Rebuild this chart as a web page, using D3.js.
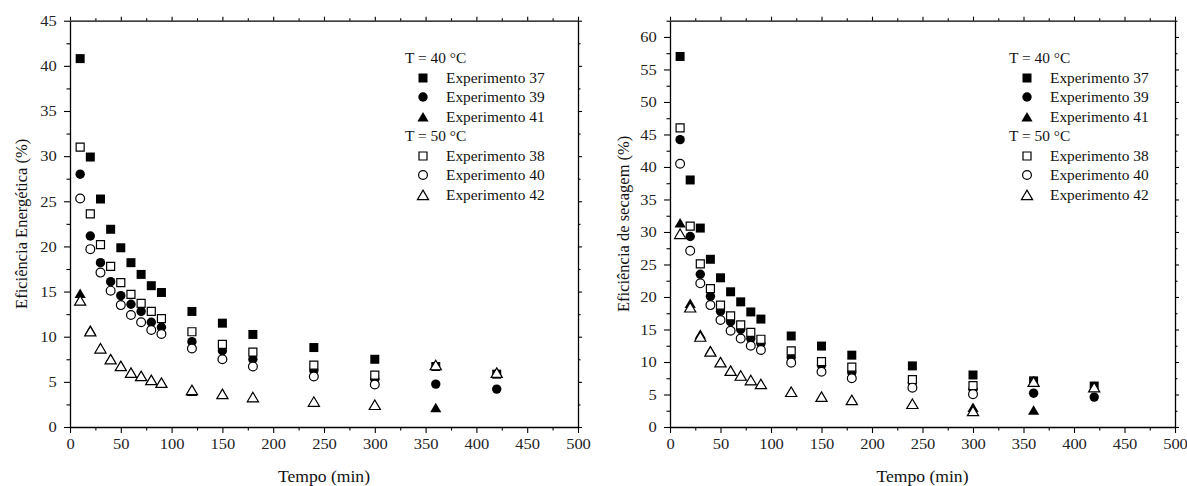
<!DOCTYPE html>
<html><head><meta charset="utf-8">
<script src="https://cdn.jsdelivr.net/npm/d3@7"></script>
<style>
body{margin:0;background:#fff;}
svg{display:block;}
svg text{font-family:"Liberation Serif","Times New Roman",serif !important;}
</style></head><body>
<svg id="c" width="1187" height="486"></svg>
<script>
const times = [10,20,30,40,50,60,70,80,90,120,150,180,240,300,360,420];
// Eficiência energética (%)
const exp37E = [40.8,29.9,25.25,21.9,19.85,18.2,16.9,15.65,14.9,12.8,11.5,10.25,8.8,7.5,6.7,5.85];
const exp39E = [28.0,21.15,18.2,16.1,14.55,13.6,12.8,11.6,11.05,9.45,8.45,7.5,6.25,5.3,4.75,4.2];
const exp41E = [14.8,10.75,8.75,7.55,6.8,6.05,5.7,5.25,4.95,3.95,3.65,3.3,2.8,2.45,2.15,null];
const exp38E = [31.0,23.6,20.2,17.8,16.0,14.7,13.7,12.8,12.0,10.55,9.15,8.3,6.85,5.75,null,null];
const exp40E = [25.3,19.7,17.1,15.1,13.5,12.4,11.6,10.75,10.3,8.7,7.5,6.7,5.6,4.7,null,null];
const exp42E = [14.0,10.6,8.7,7.5,6.75,6.0,5.65,5.2,4.9,4.1,3.65,3.3,2.8,2.45,6.85,6.0];
// Eficiência de secagem (%)
const exp37S = [57.0,38.0,30.6,25.8,22.95,20.8,19.25,17.7,16.6,14.0,12.45,11.05,9.4,8.0,7.1,6.3];
const exp39S = [44.2,29.3,23.5,20.1,17.8,16.2,15.0,13.6,12.85,10.7,9.5,8.4,6.85,5.8,5.2,4.6];
const exp41S = [31.4,19.0,14.3,11.8,10.0,8.7,7.9,7.2,6.6,5.4,4.65,4.15,3.55,3.0,2.6,null];
const exp38S = [46.0,30.9,25.1,21.3,18.75,17.1,15.7,14.55,13.5,11.7,10.05,9.2,7.3,6.35,null,null];
const exp40S = [40.5,27.1,22.1,18.75,16.45,14.8,13.6,12.5,11.85,9.9,8.5,7.5,6.05,5.05,null,null];
const exp42S = [29.7,18.4,13.9,11.6,9.95,8.65,7.9,7.2,6.6,5.4,4.65,4.15,3.55,2.45,6.95,6.1];

const seriesNames = ["Experimento 37","Experimento 39","Experimento 41","Experimento 38","Experimento 40","Experimento 42"];
const seriesShapes = ["square","circle","triangle","square","circle","triangle"];
const seriesFilled = [true,true,true,false,false,false];
const groupLabels = ["T = 40 °C","T = 50 °C"];
const xTicks = [0,50,100,150,200,250,300,350,400,450,500];

const SX = 1.1; // horizontal text stretch seen in the reference
const svg = d3.select("#c");

function markerPath(shape, filled){
  if(shape==="square") return filled ? "M-4.5,-4.5H4.5V4.5H-4.5Z" : "M-4,-4H4V4H-4Z";
  if(shape==="circle") return d3.symbol(d3.symbolCircle, Math.PI*(filled?4.7:4.4)**2)();
  return "M0,-4.9L5.6,4.6L-5.6,4.6Z";
}
function drawMarker(g, shape, filled, x, y){
  g.append("path").attr("d", markerPath(shape, filled)).attr("transform",`translate(${x},${y})`)
    .attr("fill", filled?"#000":"#fff").attr("stroke","#000")
    .attr("stroke-width", filled?0:1.2);
}
function stext(g, x, y, str, size, anchor){
  return g.append("text").attr("transform",`translate(${x},${y}) scale(${SX},1)`)
    .attr("dy","0.35em").attr("text-anchor",anchor||"start")
    .style("font-size",size+"px").attr("fill","#111").text(str);
}

function panel(opts){
  const {x0,x1,yTop,yBot,yMax,yLabel,data,legX,labelX} = opts;
  const x = d3.scaleLinear().domain([0,500]).range([x0,x1]);
  const y = d3.scaleLinear().domain([0,yMax]).range([yBot,yTop]);
  const g = svg.append("g");
  const yMaj = d3.range(0, yMax+0.01, 5);
  const yMin = d3.range(2.5, yMax+0.01, 5);
  const xMin = d3.range(25, 500, 50);
  const style = a => { a.attr("font-family",null).attr("font-size",null);
    a.selectAll(".domain").attr("stroke","#000").attr("stroke-width",1.3);
    a.selectAll(".tick line").attr("stroke","#000").attr("stroke-width",1.1);
    a.selectAll("text").style("font-size","15px").attr("fill","#222"); };
  // bottom
  g.append("g").attr("transform",`translate(0,${yBot})`).call(d3.axisBottom(x).tickValues(xTicks).tickSize(6).tickPadding(5).tickSizeOuter(0)).call(style)
    .selectAll(".tick text").attr("transform",`scale(${SX},1)`);
  g.append("g").attr("transform",`translate(0,${yBot})`).call(d3.axisBottom(x).tickValues(xMin).tickSize(3.5).tickFormat("")).call(style).select(".domain").remove();
  // top
  g.append("g").attr("transform",`translate(0,${yTop})`).call(d3.axisTop(x).tickValues(xTicks).tickSize(4).tickFormat("").tickSizeOuter(0)).call(style);
  g.append("g").attr("transform",`translate(0,${yTop})`).call(d3.axisTop(x).tickValues(xMin).tickSize(2.5).tickFormat("")).call(style).select(".domain").remove();
  // left
  g.append("g").attr("transform",`translate(${x0},0)`).call(d3.axisLeft(y).tickValues(yMaj).tickSize(6).tickPadding(6).tickSizeOuter(0)).call(style)
    .selectAll(".tick text").attr("transform",`scale(${SX},1)`);
  g.append("g").attr("transform",`translate(${x0},0)`).call(d3.axisLeft(y).tickValues(yMin).tickSize(3.5).tickFormat("")).call(style).select(".domain").remove();
  // right
  g.append("g").attr("transform",`translate(${x1},0)`).call(d3.axisRight(y).tickValues(yMaj).tickSize(4).tickFormat("").tickSizeOuter(0)).call(style);
  g.append("g").attr("transform",`translate(${x1},0)`).call(d3.axisRight(y).tickValues(yMin).tickSize(2.5).tickFormat("")).call(style).select(".domain").remove();

  // titles
  stext(g, (x0+x1)/2, 476, "Tempo (min)", 16, "middle");
  g.append("text").attr("transform",`translate(${labelX},${(yTop+yBot)/2}) rotate(-90)`).attr("text-anchor","middle").attr("dy","0.35em")
    .style("font-size","16.5px").attr("fill","#111").text(yLabel);

  // data
  const mg = g.append("g");
  data.forEach((vals,i)=>{
    vals.forEach((v,j)=>{ if(v!==null) drawMarker(mg, seriesShapes[i], seriesFilled[i], x(times[j]), y(v)); });
  });

  // legend
  const rowY = [58,78,97,117,136,156,175,195];
  const lg = g.append("g");
  let r = 0;
  [0,1].forEach(gi=>{
    stext(lg, legX, rowY[r], groupLabels[gi], 14);
    r++;
    for(let k=0;k<3;k++){
      const i = gi*3+k;
      drawMarker(lg, seriesShapes[i], seriesFilled[i], legX+18, rowY[r]);
      stext(lg, legX+41, rowY[r], seriesNames[i], 14);
      r++;
    }
  });
}

panel({x0:70,x1:578,yTop:20.7,yBot:427,yMax:45,yLabel:"Eficiência Energética (%)",
  data:[exp37E,exp39E,exp41E,exp38E,exp40E,exp42E],legX:405,labelX:21});
panel({x0:670,x1:1175,yTop:20.7,yBot:427,yMax:62.5,yLabel:"Eficiência de secagem (%)",
  data:[exp37S,exp39S,exp41S,exp38S,exp40S,exp42S],legX:1009,labelX:623});
</script></body></html>
